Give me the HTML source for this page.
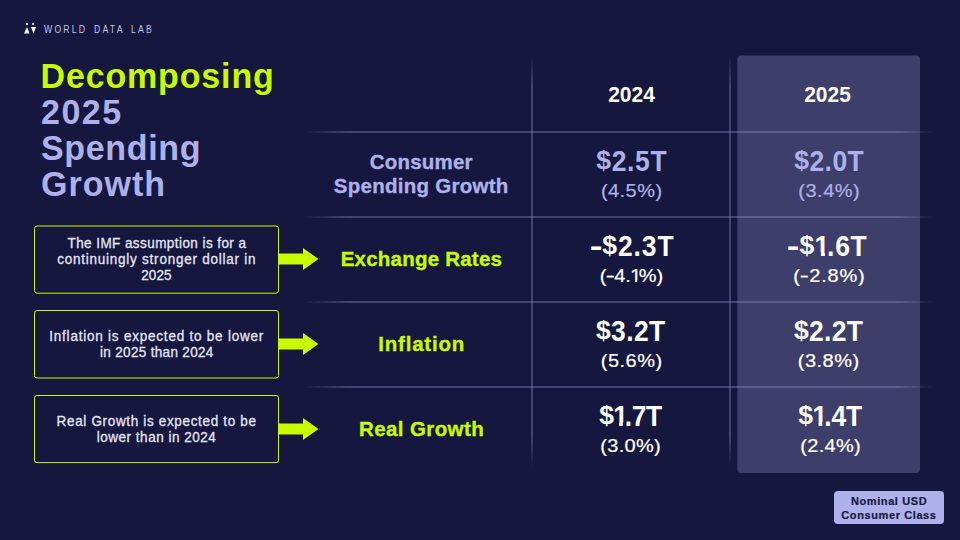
<!DOCTYPE html>
<html>
<head>
<meta charset="utf-8">
<title>Decomposing 2025 Spending Growth</title>
<style>
*{margin:0;padding:0;box-sizing:border-box;}
html,body{width:960px;height:540px;overflow:hidden;}
body{background:#15173e;font-family:"Liberation Sans",sans-serif;position:relative;}
.abs{position:absolute;}
.t{position:absolute;line-height:1;white-space:nowrap;transform-origin:50% 0.8464em;}
.t.bx{-webkit-text-stroke:0.3px #e4e5f7;}
.t.pc{-webkit-text-stroke:0.25px currentColor;}
.t .d{display:inline-block;transform:translateY(-1px) scaleY(0.87);transform-origin:50% 48%;}
.t .one{display:inline-block;clip-path:polygon(0 0,100% 0,100% 70%,67% 70%,67% 100%,41% 100%,41% 70%,0 70%);margin-left:-0.5px;margin-right:-3px;}
.t .onr{display:inline-block;clip-path:polygon(0 0,100% 0,100% 74%,62% 74%,62% 100%,43% 100%,43% 74%,0 74%);margin-left:-0.5px;margin-right:-2.5px;}
.t .mr{display:inline-block;transform:scaleX(1.35);margin:0 0.6px;}
.t.tg{-webkit-text-stroke:0.2px #17183c;}
.t.lb{-webkit-text-stroke:0.35px currentColor;}
.t .m{display:inline-block;transform:scaleX(1.45);margin:0 1px 0 1px;}
.vline{width:2px;top:55px;height:412px;background:linear-gradient(to bottom,rgba(150,152,210,0) 0,rgba(150,152,210,.34) 30px,rgba(150,152,210,.34) 382px,rgba(150,152,210,0) 100%);}
.hline{left:302px;width:631px;height:2px;background:linear-gradient(to right,rgba(150,152,210,0) 0,rgba(150,152,210,.34) 46px,rgba(150,152,210,.34) 595px,rgba(150,152,210,0) 100%);}
.arrow{left:278px;width:41px;height:22px;}
.tag{left:834px;top:490.5px;width:110px;height:33.5px;background:#aeb1ec;border-radius:4px;}
</style>
</head>
<body>

<svg class="abs" style="left:22px;top:22px" width="16" height="13" viewBox="0 0 16 13">
  <path d="M4,0.7 Q6.3,0.7 6.1,2.2 Q5.9,3.4 4.8,3.3 Q3.7,3.1 4,0.7Z" fill="#fff"/>
  <polygon points="5,5 2,11.6 7.6,11.6" fill="#fff"/>
  <path d="M9.8,2.1 Q11.1,0.3 12,1.1 Q12.5,2.6 11.3,3.1 Q10.3,3.2 9.8,2.1Z" fill="#fff"/>
  <polygon points="9,5 14,5 11.5,11.6" fill="#fff"/>
</svg>
<svg class="abs" style="left:0;top:0" width="960" height="540" viewBox="0 0 960 540"><rect x="737.3" y="55.5" width="182.7" height="417.5" rx="4" fill="#3e3e6b"/></svg>
<div class="abs vline" style="left:531px"></div>
<div class="abs vline" style="left:729px"></div>
<div class="abs hline" style="top:131px"></div>
<div class="abs hline" style="top:216px"></div>
<div class="abs hline" style="top:301px"></div>
<div class="abs hline" style="top:386px"></div>
<svg class="abs" style="left:0;top:0" width="960" height="540" viewBox="0 0 960 540">
  <g fill="none" stroke="#c8fa00" stroke-width="1">
    <rect x="34.5" y="226" width="244" height="67.2" rx="2.5"/>
    <rect x="34.5" y="310.5" width="244" height="67.5" rx="2.5"/>
    <rect x="34.5" y="395.5" width="244" height="67.1" rx="2.5"/>
  </g>
</svg>
<svg class="abs arrow" style="top:248px" viewBox="0 0 41 22"><polygon points="0,5.5 25,5.5 25,0 40.5,11 25,22 25,16.5 0,16.5" fill="#c8fa00"/></svg>
<svg class="abs arrow" style="top:333px" viewBox="0 0 41 22"><polygon points="0,5.5 25,5.5 25,0 40.5,11 25,22 25,16.5 0,16.5" fill="#c8fa00"/></svg>
<svg class="abs arrow" style="top:418px" viewBox="0 0 41 22"><polygon points="0,5.5 25,5.5 25,0 40.5,11 25,22 25,16.5 0,16.5" fill="#c8fa00"/></svg>
<div class="abs tag"></div>

<div class="t" style="top:25.07px;font-size:10.2px;color:#c0c2e2;letter-spacing:2.6px;left:44.4px;word-spacing:2.5px;transform:scale(0.85,1.1);transform-origin:0 0.8464em;">WORLD DATA LAB</div>
<div class="t" style="top:59.22px;font-size:34px;color:#c8fa00;font-weight:bold;letter-spacing:0.85px;transform:scaleY(1.04);left:42px;margin-left:-1.5px;">Decomposing</div>
<div class="t" style="top:94.82px;font-size:34px;color:#aeb0ea;font-weight:bold;letter-spacing:1.5px;transform:scaleY(1.04);left:42px;margin-left:-1px;">2025</div>
<div class="t" style="top:131.22px;font-size:34px;color:#aeb0ea;font-weight:bold;letter-spacing:0.65px;transform:scaleY(1.04);left:42px;margin-left:-1px;">Spending</div>
<div class="t" style="top:166.72px;font-size:34px;color:#aeb0ea;font-weight:bold;letter-spacing:1.0px;transform:scaleY(1.04);left:42px;margin-left:-1px;">Growth</div>
<div class="t" style="top:84.23px;font-size:21px;color:#ffffff;font-weight:bold;transform:scaleY(1.07);left:481.50px;width:300px;text-align:center;">2024</div>
<div class="t" style="top:84.23px;font-size:21px;color:#ffffff;font-weight:bold;transform:scaleY(1.07);left:677.50px;width:300px;text-align:center;">2025</div>
<div class="t lb" style="top:152.15px;font-size:20.5px;color:#aeb0ea;font-weight:bold;letter-spacing:0.2px;transform:scaleY(1.03);left:271.20px;width:300px;text-align:center;">Consumer</div>
<div class="t lb" style="top:175.85px;font-size:20.5px;color:#aeb0ea;font-weight:bold;letter-spacing:0.27px;transform:scaleY(1.03);left:271.24px;width:300px;text-align:center;">Spending Growth</div>
<div class="t lb" style="top:249.15px;font-size:20.5px;color:#c8fa00;font-weight:bold;letter-spacing:0.22px;transform:scaleY(1.03);left:271.41px;width:300px;text-align:center;">Exchange Rates</div>
<div class="t lb" style="top:334.45px;font-size:20.5px;color:#c8fa00;font-weight:bold;letter-spacing:0.8px;transform:scaleY(1.03);left:271.70px;width:300px;text-align:center;">Inflation</div>
<div class="t lb" style="top:419.05px;font-size:20.5px;color:#c8fa00;font-weight:bold;letter-spacing:0.4px;transform:scaleY(1.03);left:271.50px;width:300px;text-align:center;">Real Growth</div>
<div class="t" style="top:148.67px;font-size:26.5px;color:#aeb0ea;font-weight:bold;letter-spacing:0.65px;transform:scaleY(1.1);left:481.82px;width:300px;text-align:center;"><span class="d">$</span>2.5T</div>
<div class="t pc" style="top:179.97px;font-size:20px;color:#aeb0ea;letter-spacing:0.44px;transform:scaleY(0.95);left:481.72px;width:300px;text-align:center;">(4.5%)</div>
<div class="t" style="top:148.67px;font-size:26.5px;color:#aeb0ea;font-weight:bold;letter-spacing:0.45px;transform:scaleY(1.1);left:679.23px;width:300px;text-align:center;"><span class="d">$</span>2.0T</div>
<div class="t pc" style="top:179.97px;font-size:20px;color:#aeb0ea;letter-spacing:0.5px;transform:scaleY(0.95);left:679.25px;width:300px;text-align:center;">(3.4%)</div>
<div class="t" style="top:233.67px;font-size:26.5px;color:#ffffff;font-weight:bold;letter-spacing:0.88px;transform:scaleY(1.1);left:482.54px;width:300px;text-align:center;"><span class="m">-</span><span class="d">$</span>2.3T</div>
<div class="t pc" style="top:264.97px;font-size:20px;color:#ffffff;letter-spacing:-0.05px;transform:scaleY(0.95);left:481.48px;width:300px;text-align:center;">(<span class="mr">-</span>4.<span class="onr">1</span>%)</div>
<div class="t" style="top:233.67px;font-size:26.5px;color:#ffffff;font-weight:bold;letter-spacing:0.74px;transform:scaleY(1.1);left:677.77px;width:300px;text-align:center;"><span class="m">-</span><span class="d">$</span><span class="one">1</span>.6T</div>
<div class="t pc" style="top:264.97px;font-size:20px;color:#ffffff;letter-spacing:0.8px;transform:scaleY(0.95);left:679.40px;width:300px;text-align:center;">(<span class="mr">-</span>2.8%)</div>
<div class="t" style="top:318.67px;font-size:26.5px;color:#ffffff;font-weight:bold;letter-spacing:0.35px;transform:scaleY(1.1);left:480.78px;width:300px;text-align:center;"><span class="d">$</span>3.2T</div>
<div class="t pc" style="top:349.97px;font-size:20px;color:#ffffff;letter-spacing:0.48px;transform:scaleY(0.95);left:481.74px;width:300px;text-align:center;">(5.6%)</div>
<div class="t" style="top:318.67px;font-size:26.5px;color:#ffffff;font-weight:bold;letter-spacing:0.35px;transform:scaleY(1.1);left:678.67px;width:300px;text-align:center;"><span class="d">$</span>2.2T</div>
<div class="t pc" style="top:349.97px;font-size:20px;color:#ffffff;letter-spacing:0.48px;transform:scaleY(0.95);left:678.74px;width:300px;text-align:center;">(3.8%)</div>
<div class="t" style="top:403.67px;font-size:26.5px;color:#ffffff;font-weight:bold;letter-spacing:-0.35px;transform:scaleY(1.1);left:480.62px;width:300px;text-align:center;"><span class="d">$</span><span class="one">1</span>.7T</div>
<div class="t pc" style="top:434.97px;font-size:20px;color:#ffffff;letter-spacing:0.3px;transform:scaleY(0.95);left:480.65px;width:300px;text-align:center;">(3.0%)</div>
<div class="t" style="top:403.67px;font-size:26.5px;color:#ffffff;font-weight:bold;letter-spacing:-0.1px;transform:scaleY(1.1);left:680.25px;width:300px;text-align:center;"><span class="d">$</span><span class="one">1</span>.4T</div>
<div class="t pc" style="top:434.97px;font-size:20px;color:#ffffff;letter-spacing:0.3px;transform:scaleY(0.95);left:680.65px;width:300px;text-align:center;">(2.4%)</div>
<div class="t bx" style="top:237.17px;font-size:13.5px;color:#e4e5f7;letter-spacing:0.43px;transform:scaleY(1.06);left:6.96px;width:300px;text-align:center;">The IMF assumption is for a</div>
<div class="t bx" style="top:253.17px;font-size:13.5px;color:#e4e5f7;letter-spacing:0.76px;transform:scaleY(1.06);left:6.78px;width:300px;text-align:center;">continuingly stronger dollar in</div>
<div class="t bx" style="top:269.27px;font-size:13.5px;color:#e4e5f7;transform:scaleY(1.06);left:6.40px;width:300px;text-align:center;">2025</div>
<div class="t bx" style="top:330.07px;font-size:13.5px;color:#e4e5f7;letter-spacing:0.78px;transform:scaleY(1.06);left:6.69px;width:300px;text-align:center;">Inflation is expected to be lower</div>
<div class="t bx" style="top:345.97px;font-size:13.5px;color:#e4e5f7;letter-spacing:0.33px;transform:scaleY(1.06);left:6.82px;width:300px;text-align:center;">in 2025 than 2024</div>
<div class="t bx" style="top:415.07px;font-size:13.5px;color:#e4e5f7;letter-spacing:0.66px;transform:scaleY(1.06);left:6.58px;width:300px;text-align:center;">Real Growth is expected to be</div>
<div class="t bx" style="top:430.97px;font-size:13.5px;color:#e4e5f7;letter-spacing:0.51px;transform:scaleY(1.06);left:6.56px;width:300px;text-align:center;">lower than in 2024</div>
<div class="t tg" style="top:496.09px;font-size:11px;color:#17183c;font-weight:bold;letter-spacing:0.6px;left:739.05px;width:300px;text-align:center;">Nominal USD</div>
<div class="t tg" style="top:509.99px;font-size:11px;color:#17183c;font-weight:bold;letter-spacing:0.6px;left:738.95px;width:300px;text-align:center;">Consumer Class</div>
</body>
</html>
